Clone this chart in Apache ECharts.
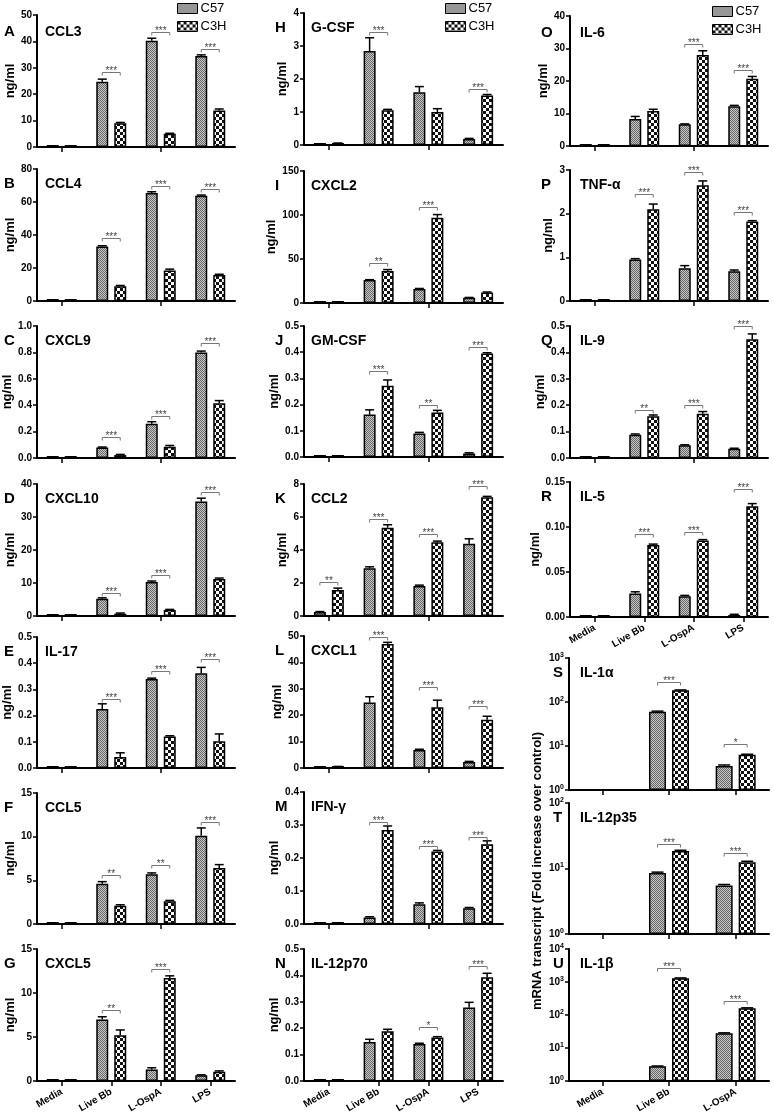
<!DOCTYPE html>
<html><head><meta charset="utf-8">
<script src="https://cdn.jsdelivr.net/npm/echarts@6/dist/echarts.min.js"></script>
<style>html,body{margin:0;padding:0;background:#fff}#c{width:774px;height:1115px}</style>
</head><body><div id="c"></div>
<script>
// ---------------- DATA ----------------
const categories = ['Media', 'Live Bb', 'L-OspA', 'LPS'];
const mrnaCategories = ['Media', 'Live Bb', 'L-OspA'];
const panelLetters = ['A','B','C','D','E','F','G','H','I','J','K','L','M','N','O','P','Q','R','S','T','U'];
const panelNames = ['CCL3','CCL4','CXCL9','CXCL10','IL-17','CCL5','CXCL5',
  'G-CSF','CXCL2','GM-CSF','CCL2','CXCL1','IFN-γ','IL-12p70',
  'IL-6','TNF-α','IL-9','IL-5','IL-1α','IL-12p35','IL-1β'];
const axisMax = [50,80,1,40,0.5,15,15, 4,150,0.5,8,50,0.4,0.5, 40,3,0.5,0.15, 1000,100,10000];
const axisInterval = [10,20,0.2,10,0.1,5,5, 1,50,0.1,2,10,0.1,0.1, 10,1,0.1,0.05, null,null,null];
const labelDecimals = [0,0,1,0,1,0,0, 0,0,1,0,0,1,1, 0,0,1,2, 0,0,0];

const c57Mean = [
  [0.2, 24.7, 40.2, 34.5],
  [0.3, 33, 65.5, 63.8],
  [0.003, 0.08, 0.26, 0.80],
  [0.3, 5.2, 10.3, 34.7],
  [0.002, 0.225, 0.34, 0.362],
  [0.05, 4.6, 5.7, 10.1],
  [0.05, 7.0, 1.3, 0.65],
  [0.02, 2.85, 1.6, 0.18],
  [0.3, 26, 16, 6],
  [0.002, 0.162, 0.09, 0.013],
  [0.25, 2.9, 1.82, 4.38],
  [0.2, 24.8, 6.8, 2.3],
  [0.001, 0.02, 0.06, 0.048],
  [0.002, 0.148, 0.14, 0.278],
  [0.1, 8.3, 6.7, 12.2],
  [0.02, 0.95, 0.75, 0.68],
  [0.001, 0.088, 0.048, 0.035],
  [0.0005, 0.026, 0.023, 0.002],
  [null, 60, 3.5],
  [null, 8.5, 5.5],
  [null, 2.8, 28]
];
const c57Err = [
  [0, 1.0, 1.0, 0.4],
  [0, 0.5, 0.7, 0.4],
  [0, 0.003, 0.015, 0.01],
  [0, 0.3, 0.3, 1.0],
  [0, 0.02, 0.003, 0.022],
  [0, 0.25, 0.15, 0.9],
  [0, 0.3, 0.2, 0.05],
  [0, 0.4, 0.17, 0.02],
  [0, 0.5, 0.5, 0.3],
  [0, 0.018, 0.004, 0.003],
  [0.02, 0.08, 0.05, 0.3],
  [0, 2.2, 0.3, 0.2],
  [0, 0.002, 0.004, 0.002],
  [0, 0.01, 0.003, 0.02],
  [0, 0.8, 0.1, 0.3],
  [0, 0.02, 0.06, 0.03],
  [0, 0.003, 0.002, 0.002],
  [0, 0.002, 0.001, 0.001],
  [0, 2, 0.2],
  [0, 0.3, 0.2],
  [0, 0.05, 0.8]
];
const c3hMean = [
  [0.2, 9.0, 5.0, 13.8],
  [0.3, 9.0, 18.5, 15.8],
  [0.003, 0.022, 0.085, 0.415],
  [0.1, 0.7, 1.8, 11.2],
  [0.002, 0.042, 0.12, 0.102],
  [0.05, 2.1, 2.6, 6.4],
  [0.1, 5.2, 11.7, 1.05],
  [0.05, 1.05, 1.0, 1.5],
  [0.3, 36.5, 97, 12],
  [0.002, 0.272, 0.17, 0.395],
  [1.57, 5.35, 4.47, 7.2],
  [0.5, 47, 23, 18.3],
  [0.001, 0.285, 0.22, 0.242],
  [0.002, 0.188, 0.165, 0.393],
  [0.2, 10.8, 28, 20.7],
  [0.02, 2.1, 2.65, 1.82],
  [0.001, 0.158, 0.168, 0.45],
  [0.0005, 0.08, 0.085, 0.123],
  [null, 185, 6.3],
  [null, 18.5, 12.5],
  [null, 1300, 160]
];
const c3hErr = [
  [0, 0.3, 0.2, 0.6],
  [0, 0.4, 0.8, 0.4],
  [0, 0.005, 0.01, 0.02],
  [0, 0.2, 0.2, 0.3],
  [0, 0.016, 0.003, 0.028],
  [0, 0.1, 0.1, 0.4],
  [0, 0.6, 0.25, 0.1],
  [0.01, 0.03, 0.1, 0.03],
  [0, 1.5, 3.5, 0.5],
  [0, 0.022, 0.008, 0.003],
  [0.12, 0.18, 0.07, 0.05],
  [0.1, 0.6, 2.7, 1.3],
  [0, 0.012, 0.003, 0.01],
  [0, 0.008, 0.003, 0.015],
  [0, 0.5, 1.3, 0.7],
  [0, 0.12, 0.1, 0.02],
  [0, 0.005, 0.008, 0.02],
  [0, 0.001, 0.001, 0.003],
  [0, 3, 0.2],
  [0, 0.5, 0.4],
  [0, 30, 5]
];
// number of significance stars per group (0 = none)
const sigStars = [
  [0,3,3,3],[0,3,3,3],[0,3,3,3],[0,3,3,3],[0,3,3,3],[0,2,2,3],[0,2,3,0],
  [0,3,0,3],[0,2,3,0],[0,3,2,3],[2,3,3,3],[0,3,3,3],[0,3,3,3],[0,0,1,3],
  [0,0,3,3],[0,3,3,3],[0,2,3,3],[0,3,3,3],
  [0,3,1],[0,3,3],[0,3,3]
];
// value at which each significance bracket is drawn
const bracketLevel = [
  [null, 28.5, 43.6, 37.1],
  [null, 38, 69.5, 67.8],
  [null, 0.16, 0.32, 0.87],
  [null, 7.0, 12.4, 37.6],
  [null, 0.265, 0.37, 0.415],
  [null, 5.6, 6.8, 11.7],
  [null, 8.1, 12.7, null],
  [null, 3.42, null, 1.7],
  [null, 45.5, 109, null],
  [null, 0.33, 0.2, 0.42],
  [2.05, 5.9, 4.97, 7.9],
  [null, 49.5, 30.7, 23.5],
  [null, 0.31, 0.235, 0.265],
  [null, null, 0.205, 0.436],
  [null, null, 31.4, 23.4],
  [null, 2.45, 2.95, 2.04],
  [null, 0.18, 0.2, 0.5],
  [null, 0.092, 0.095, 0.142],
  [null, 285, 11],
  [null, 24, 17],
  [null, 2650, 265]
];
const legendLabels = ['C57', 'C3H'];
const mrnaAxisTitle = 'mRNA transcript (Fold increase over control)';
const ngAxisTitle = 'ng/ml';

// ---------------- LAYOUT ----------------
const FONT = 'Liberation Sans, Arial, sans-serif';
const col1 = [[15,147],[169,301],[326,458],[484,616],[637,768],[793,924],[949,1081]];
const col2 = [[13,145],[171,303],[326,457],[484,616],[636,768],[792,924],[949,1081]];
const col3 = [[16,146],[170,301],[326,458],[482,617],[658,790],[803,934],[949,1081]];
const boxes = [];
for (let r = 0; r < 7; r++) boxes.push([37, col1[r][0], 198, col1[r][1] - col1[r][0]]);
for (let r = 0; r < 7; r++) boxes.push([304, col2[r][0], 199, col2[r][1] - col2[r][0]]);
for (let r = 0; r < 7; r++) boxes.push(r < 4 ? [570, col3[r][0], 198, col3[r][1] - col3[r][0]]
                                              : [569, col3[r][0], 200, col3[r][1] - col3[r][0]]);
const bottomPanels = [6, 13, 17, 20];

function makePattern(kind) {
  const c = document.createElement('canvas');
  if (kind === 'c57') {
    c.width = 2; c.height = 2;
    const g = c.getContext('2d');
    g.fillStyle = '#c8c8c8'; g.fillRect(0, 0, 2, 2);
    g.fillStyle = '#666666'; g.fillRect(0, 0, 1, 1); g.fillRect(1, 1, 1, 1);
  } else {
    c.width = 6; c.height = 6;
    const g = c.getContext('2d');
    g.fillStyle = '#ffffff'; g.fillRect(0, 0, 6, 6);
    g.fillStyle = '#111111'; g.fillRect(0, 0, 3, 3); g.fillRect(3, 3, 3, 3);
  }
  return { image: c, repeat: 'repeat' };
}
const patC57 = makePattern('c57');
const patC3H = makePattern('c3h');

const grids = [], xAxes = [], yAxes = [], series = [], graphics = [];

for (let i = 0; i < 21; i++) {
  const b = boxes[i];
  const isLog = i >= 18;
  const cats = isLog ? mrnaCategories : categories;
  const bw = isLog ? 17 : 12;
  const gapFrac = isLog ? 6 / 17 : 0.5;
  const off = (bw + bw * gapFrac) / 2;
  grids.push({ left: b[0], top: b[1], width: b[2], height: b[3] });
  xAxes.push({
    type: 'category', gridIndex: i, data: cats, z: 1,
    axisLine: { show: true, lineStyle: { color: '#000', width: 2 } },
    axisTick: { show: true, alignWithLabel: true, length: 5, lineStyle: { color: '#000', width: 1.5 } },
    axisLabel: bottomPanels.includes(i)
      ? { show: true, rotate: 30, fontSize: 10, fontWeight: 'bold', color: '#000', margin: 10, fontFamily: FONT }
      : { show: false },
    splitLine: { show: false }
  });
  const dec = labelDecimals[i];
  const y = {
    gridIndex: i,
    axisLine: { show: true, lineStyle: { color: '#000', width: 2 } },
    axisTick: { show: true, length: 4, lineStyle: { color: '#000', width: 1.5 } },
    splitLine: { show: false },
    minorTick: { show: false }
  };
  if (isLog) {
    Object.assign(y, {
      type: 'log', logBase: 10, min: 1, max: axisMax[i],
      axisLabel: {
        color: '#000', margin: 5, fontFamily: FONT,
        formatter: v => '{b|10}{s|' + Math.round(Math.log10(v)) + '}',
        rich: {
          b: { fontSize: 10, fontWeight: 'bold', fontFamily: FONT, color: '#000' },
          s: { fontSize: 7, fontWeight: 'bold', fontFamily: FONT, color: '#000', padding: [0, 0, 6, 0] }
        }
      }
    });
  } else {
    Object.assign(y, {
      type: 'value', min: 0, max: axisMax[i], interval: axisInterval[i],
      name: ngAxisTitle, nameLocation: 'middle', nameGap: i < 7 ? 18 : 15,
      nameTextStyle: { fontSize: 13, fontWeight: 'bold', color: '#000', fontFamily: FONT },
      axisLabel: { fontSize: 10, fontWeight: 'bold', color: '#000', margin: 5, fontFamily: FONT,
        formatter: v => v.toFixed(dec) }
    });
  }
  yAxes.push(y);

  series.push({
    type: 'bar', name: legendLabels[0], xAxisIndex: i, yAxisIndex: i,
    data: c57Mean[i], barWidth: bw, barGap: (gapFrac * 100) + '%', barMinHeight: isLog ? 0 : 2,
    itemStyle: { color: patC57, borderColor: '#000', borderWidth: 1.5 },
    emphasis: { disabled: true }, z: 2
  });
  series.push({
    type: 'bar', name: legendLabels[1], xAxisIndex: i, yAxisIndex: i,
    data: c3hMean[i], barWidth: bw, barGap: (gapFrac * 100) + '%', barMinHeight: isLog ? 0 : 2,
    itemStyle: { color: patC3H, borderColor: '#000', borderWidth: 1.5 },
    emphasis: { disabled: true }, z: 2
  });

  const errData = [];
  for (let k = 0; k < cats.length; k++) {
    if (c57Mean[i][k] != null && c57Err[i][k] > 0) errData.push([k, c57Mean[i][k], c57Err[i][k], -1]);
    if (c3hMean[i][k] != null && c3hErr[i][k] > 0) errData.push([k, c3hMean[i][k], c3hErr[i][k], 1]);
  }
  const capHalf = isLog ? 6 : 4.5;
  series.push({
    type: 'custom', name: 'err' + i, xAxisIndex: i, yAxisIndex: i, clip: false, z: 3,
    data: errData,
    renderItem: (params, api) => {
      const k = api.value(0), m = api.value(1), e = api.value(2), side = api.value(3);
      const p0 = api.coord([k, m]);
      const p1 = api.coord([k, m + e]);
      const x = p0[0] + side * off;
      return { type: 'group', children: [
        { type: 'line', shape: { x1: x, y1: p0[1], x2: x, y2: p1[1] }, style: { stroke: '#000', lineWidth: 1.5 } },
        { type: 'line', shape: { x1: x - capHalf, y1: p1[1], x2: x + capHalf, y2: p1[1] }, style: { stroke: '#000', lineWidth: 1.5 } }
      ] };
    }
  });

  const brData = [];
  for (let k = 0; k < cats.length; k++) {
    if (sigStars[i][k] > 0 && bracketLevel[i][k] != null) brData.push([k, bracketLevel[i][k], sigStars[i][k]]);
  }
  series.push({
    type: 'custom', name: 'sig' + i, xAxisIndex: i, yAxisIndex: i, clip: false, z: 4,
    data: brData,
    renderItem: (params, api) => {
      const k = api.value(0), lv = api.value(1), n = api.value(2);
      const p = api.coord([k, lv]);
      const x1 = p[0] - off, x2 = p[0] + off, yy = Math.round(p[1]) + 0.5;
      return { type: 'group', children: [
        { type: 'polyline', shape: { points: [[x1, yy + 3], [x1, yy], [x2, yy], [x2, yy + 3]] },
          style: { stroke: '#777', lineWidth: 1, fill: null } },
        { type: 'text', style: { text: '*'.repeat(n), x: p[0], y: yy - 1, align: 'center', verticalAlign: 'middle',
          fontSize: 10, fontFamily: FONT, fill: '#444' } }
      ] };
    }
  });

  // panel letter and title
  const col = i < 7 ? 0 : (i < 14 ? 1 : 2);
  const letterX = col === 0 ? 4 : (col === 1 ? 275 : (isLog ? 553 : 541));
  const titleX = col === 0 ? 45 : (col === 1 ? 311 : 580);
  const ty = b[1] + (i === 0 || i === 14 ? 17 : 15);
  graphics.push({ type: 'text', silent: true, style: { text: panelLetters[i], x: letterX, y: ty, verticalAlign: 'middle',
    font: 'bold 15px ' + FONT, fill: '#000' } });
  graphics.push({ type: 'text', silent: true, style: { text: panelNames[i], x: titleX, y: ty, verticalAlign: 'middle',
    font: 'bold 14px ' + FONT, fill: '#000' } });
}

graphics.push({ type: 'text', silent: true, x: 537, y: 871, rotation: Math.PI / 2,
  style: { text: mrnaAxisTitle, x: 0, y: 0, align: 'center', verticalAlign: 'middle', font: 'bold 13px ' + FONT, fill: '#000' } });

function legendAt(left, top) {
  return {
    data: legendLabels, orient: 'vertical', left: left, top: top, icon: 'rect',
    itemWidth: 20, itemHeight: 10, itemGap: 5, padding: 0, selectedMode: false,
    itemStyle: { borderColor: '#000', borderWidth: 1 },
    textStyle: { fontSize: 13, color: '#000', fontFamily: FONT, padding: [0, 0, 0, -2] }
  };
}

const chart = echarts.init(document.getElementById('c'), null, { renderer: 'canvas' });
chart.setOption({
  animation: false,
  backgroundColor: '#fff',
  legend: [legendAt(177, 2), legendAt(445, 2), legendAt(712, 5)],
  grid: grids, xAxis: xAxes, yAxis: yAxes, series: series, graphic: graphics
});
</script></body></html>
